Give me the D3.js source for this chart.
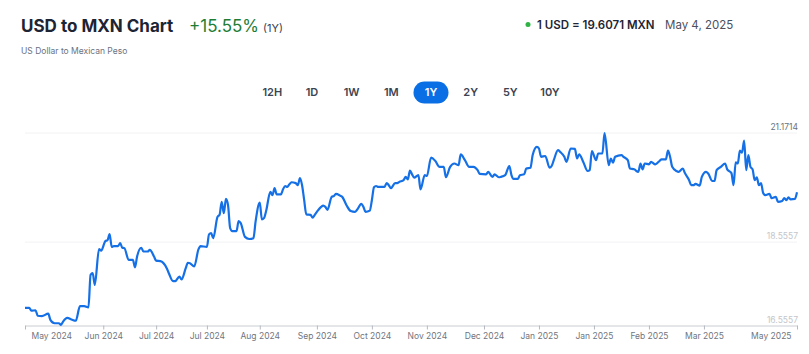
<!DOCTYPE html>
<html>
<head>
<meta charset="utf-8">
<script src="https://cdn.jsdelivr.net/npm/d3@7"></script>
<style>
  html, body { margin: 0; padding: 0; background: #fff; }
  .chart { width: 809px; height: 354px; }
  text { font-family: Inter, "Noto Sans", sans-serif; }
  .x-axis .domain { stroke: #c9ccd1; }
  .x-axis line { stroke: #b5b9c0; }
  .x-axis text { fill: #70757e; font-size: 8.5px; }
</style>
</head>
<body>
<div class="chart"></div>
<script>
// daily USD/MXN closes
var dates = [
  "2024-05-04","2024-05-06","2024-05-07","2024-05-09","2024-05-10","2024-05-12","2024-05-15","2024-05-16",
  "2024-05-18","2024-05-20","2024-05-21","2024-05-22","2024-05-24","2024-05-26","2024-05-28","2024-05-30",
  "2024-06-01","2024-06-03","2024-06-04","2024-06-05","2024-06-06","2024-06-08","2024-06-09","2024-06-11",
  "2024-06-12","2024-06-13","2024-06-14","2024-06-15","2024-06-17","2024-06-18","2024-06-19","2024-06-20",
  "2024-06-22","2024-06-24","2024-06-25","2024-06-26","2024-06-28","2024-06-29","2024-07-01","2024-07-02",
  "2024-07-04","2024-07-05","2024-07-07","2024-07-10","2024-07-11","2024-07-13","2024-07-14","2024-07-16",
  "2024-07-17","2024-07-19","2024-07-20","2024-07-21","2024-07-23","2024-07-25","2024-07-26","2024-07-29",
  "2024-07-30","2024-07-31","2024-08-01","2024-08-03","2024-08-04","2024-08-05","2024-08-06","2024-08-07",
  "2024-08-08","2024-08-09","2024-08-10","2024-08-12","2024-08-13","2024-08-14","2024-08-16","2024-08-18",
  "2024-08-20","2024-08-21","2024-08-23","2024-08-24","2024-08-25","2024-08-26","2024-08-28","2024-08-29",
  "2024-08-30","2024-08-31","2024-09-02","2024-09-03","2024-09-04","2024-09-05","2024-09-06","2024-09-07",
  "2024-09-09","2024-09-10","2024-09-11","2024-09-12","2024-09-13","2024-09-14","2024-09-16","2024-09-17",
  "2024-09-18","2024-09-19","2024-09-21","2024-09-22","2024-09-23","2024-09-24","2024-09-26","2024-09-27",
  "2024-09-28","2024-09-30","2024-10-01","2024-10-03","2024-10-05","2024-10-07","2024-10-08","2024-10-10",
  "2024-10-11","2024-10-12","2024-10-14","2024-10-15","2024-10-16","2024-10-17","2024-10-18","2024-10-20",
  "2024-10-21","2024-10-22","2024-10-23","2024-10-24","2024-10-26","2024-10-27","2024-10-28","2024-10-30",
  "2024-10-31","2024-11-01","2024-11-02","2024-11-03","2024-11-04","2024-11-06","2024-11-07","2024-11-09",
  "2024-11-10","2024-11-12","2024-11-14","2024-11-16","2024-11-18","2024-11-19","2024-11-21","2024-11-23",
  "2024-11-25","2024-11-26","2024-11-28","2024-11-30","2024-12-02","2024-12-04","2024-12-05","2024-12-08",
  "2024-12-09","2024-12-11","2024-12-12","2024-12-14","2024-12-15","2024-12-17","2024-12-19","2024-12-20",
  "2024-12-21","2024-12-23","2024-12-24","2024-12-26","2024-12-27","2024-12-29","2024-12-30","2025-01-01",
  "2025-01-02","2025-01-03","2025-01-05","2025-01-07","2025-01-08","2025-01-09","2025-01-11","2025-01-12",
  "2025-01-14","2025-01-15","2025-01-17","2025-01-19","2025-01-20","2025-01-21","2025-01-23","2025-01-25",
  "2025-01-26","2025-01-27","2025-01-29","2025-01-30","2025-02-01","2025-02-02","2025-02-04","2025-02-05",
  "2025-02-06","2025-02-07","2025-02-10","2025-02-11","2025-02-13","2025-02-14","2025-02-16","2025-02-18",
  "2025-02-19","2025-02-20","2025-02-21","2025-02-23","2025-02-24","2025-02-26","2025-02-28","2025-03-01",
  "2025-03-03","2025-03-04","2025-03-05","2025-03-06","2025-03-08","2025-03-09","2025-03-11","2025-03-12",
  "2025-03-14","2025-03-15","2025-03-16","2025-03-17","2025-03-19","2025-03-20","2025-03-22","2025-03-23",
  "2025-03-25","2025-03-26","2025-03-27","2025-03-29","2025-03-31","2025-04-01","2025-04-03","2025-04-04",
  "2025-04-05","2025-04-06","2025-04-07","2025-04-08","2025-04-09","2025-04-10","2025-04-11","2025-04-12",
  "2025-04-13","2025-04-14","2025-04-15","2025-04-16","2025-04-17","2025-04-18","2025-04-19","2025-04-21",
  "2025-04-22","2025-04-24","2025-04-25","2025-04-27","2025-04-28","2025-04-29","2025-04-30","2025-05-01",
  "2025-05-03","2025-05-04"
];
var rates = [
  16.98,16.98,16.91,16.92,16.79,16.78,16.84,16.69,
  16.61,16.61,16.57,16.65,16.74,16.70,16.67,17.02,
  17.02,16.99,17.77,17.81,17.53,18.39,18.35,18.58,
  18.60,18.75,18.44,18.46,18.46,18.53,18.42,18.41,
  18.13,18.13,17.95,18.21,18.42,18.33,18.33,18.37,
  18.21,18.11,18.10,17.93,17.81,17.62,17.62,17.73,
  17.66,17.93,18.06,18.05,17.97,18.38,18.46,18.44,
  18.74,18.77,18.65,19.16,19.21,19.52,19.25,19.59,
  19.44,18.89,18.82,18.82,19.06,19.01,18.68,18.63,
  18.65,19.04,19.50,19.10,19.13,19.30,19.76,19.68,
  19.85,19.70,19.70,19.82,19.90,19.88,19.94,19.99,
  19.97,19.92,20.09,19.92,19.56,19.22,19.21,19.14,
  19.21,19.28,19.40,19.43,19.40,19.33,19.64,19.66,
  19.71,19.67,19.64,19.44,19.30,19.28,19.33,19.47,
  19.40,19.28,19.31,19.56,19.87,19.90,19.88,19.88,
  19.88,19.97,19.92,19.85,19.97,19.97,20.00,20.04,
  20.12,20.06,20.27,20.18,20.10,20.16,19.82,20.16,
  20.14,20.58,20.50,20.36,20.36,20.11,20.36,20.44,
  20.40,20.66,20.52,20.36,20.36,20.28,20.19,20.18,
  20.24,20.12,20.18,20.11,20.12,20.16,20.38,20.16,
  20.07,20.07,20.16,20.18,20.32,20.34,20.64,20.84,
  20.80,20.60,20.62,20.34,20.38,20.52,20.76,20.72,
  20.60,20.48,20.80,20.79,20.56,20.66,20.47,20.26,
  20.28,20.74,20.52,20.68,20.68,21.17,20.40,20.56,
  20.46,20.60,20.64,20.60,20.52,20.32,20.30,20.24,
  20.44,20.30,20.44,20.42,20.48,20.42,20.50,20.54,
  20.54,20.75,20.60,20.36,20.26,20.24,20.32,20.21,
  20.04,19.92,19.92,19.95,19.91,20.12,20.24,20.20,
  20.02,20.02,20.28,20.36,20.44,20.30,20.21,19.92,
  20.47,20.44,20.75,20.70,20.99,20.28,20.64,20.36,
  20.30,20.04,20.11,19.92,19.97,19.73,19.68,19.71,
  19.61,19.64,19.52,19.54,19.61,19.56,19.63,19.58,
  19.59,19.75
];
var dateRange = ["2024-05-04", "2025-05-04"];
var xTickDates = ["2024-05-04","2024-06-10","2024-07-05","2024-07-29","2024-08-23","2024-09-19","2024-10-15",
                  "2024-11-10","2024-12-07","2025-01-02","2025-01-28","2025-02-23","2025-03-21","2025-05-04"];
var yTicks = [16.5557, 18.5557, 21.1714];
var rangeButtons = ["12H","1D","1W","1M","1Y","2Y","5Y","10Y"];
var activeRange = "1Y";

(function(){
    var parse = d3.timeParse("%Y-%m-%d");
    var data = dates.map(function(d, i){ return {date: parse(d), value: rates[i]}; });

    var W = 809, H = 354;
    var plot = {left: 25, right: 797, top: 133, bottom: 325.5};

    var svg = d3.select(".chart").append("svg")
        .attr("width", W)
        .attr("height", H);

    // ---- header ----
    var head = svg.append("g");
    head.append("text").attr("x", 21).attr("y", 31.5)
        .attr("font-size", 17).attr("font-weight", 700).attr("fill", "#1d2433")
        .text("USD to MXN Chart");
    head.append("text").attr("x", 189).attr("y", 31.5)
        .attr("font-size", 17).attr("fill", "#1e7d35")
        .text("+15.55%");
    head.append("text").attr("x", 263).attr("y", 31.5)
        .attr("font-size", 11).attr("fill", "#3b4252")
        .text("(1Y)");
    head.append("text").attr("x", 21).attr("y", 54)
        .attr("font-size", 8.5).attr("fill", "#6b7280")
        .text("US Dollar to Mexican Peso");

    head.append("circle").attr("cx", 528).attr("cy", 24.5).attr("r", 2.5).attr("fill", "#2fb344");
    head.append("text").attr("x", 537).attr("y", 28.5)
        .attr("font-size", 11.5).attr("font-weight", 600).attr("fill", "#1d2433")
        .text("1 USD = 19.6071 MXN");
    head.append("text").attr("x", 665).attr("y", 28.5)
        .attr("font-size", 11.5).attr("fill", "#4a5060")
        .text("May 4, 2025");

    // ---- range buttons ----
    var bx = d3.scalePoint().domain(rangeButtons).range([272.3, 550]);
    var btn = svg.append("g").selectAll("g").data(rangeButtons).enter()
        .append("g")
        .attr("transform", function(d){ return "translate(" + bx(d) + ",92.5)"; });
    btn.filter(function(d){ return d === activeRange; })
        .append("rect")
        .attr("x", -17.5).attr("y", -11).attr("width", 35).attr("height", 22).attr("rx", 11)
        .attr("fill", "#0a6ee4");
    btn.append("text")
        .attr("text-anchor", "middle").attr("dy", "0.36em")
        .attr("font-size", 11).attr("font-weight", 600)
        .attr("fill", function(d){ return d === activeRange ? "#fff" : "#3c4352"; })
        .text(function(d){ return d; });

    // ---- scales ----
    var x = d3.scaleTime().domain(dateRange.map(parse)).range([plot.left, plot.right]);
    var y = d3.scaleLinear().domain([yTicks[0], yTicks[yTicks.length - 1]]).range([plot.bottom, plot.top]);

    // gridlines (bottom one is the axis)
    svg.append("g").selectAll("line").data(yTicks.slice(1)).enter()
        .append("line")
        .attr("x1", plot.left).attr("x2", plot.right)
        .attr("y1", function(d){ return y(d); }).attr("y2", function(d){ return y(d); })
        .attr("stroke", "#f1f2f4");

    // y labels sit above their line, right side
    svg.append("g").selectAll("text").data(yTicks).enter()
        .append("text")
        .attr("x", plot.right + 1)
        .attr("y", function(d){ return y(d) - 3; })
        .attr("text-anchor", "end")
        .attr("font-size", 8.5)
        .attr("fill", function(d, i){ return i === yTicks.length - 1 ? "#6d7179" : "#c3c6cb"; })
        .text(d3.format(".4f"));

    // x axis
    var xAxis = svg.append("g")
        .attr("class", "x-axis")
        .attr("transform", "translate(0," + plot.bottom + ")")
        .call(d3.axisBottom(x)
            .tickValues(xTickDates.map(parse))
            .tickSize(4)
            .tickSizeOuter(0)
            .tickPadding(3)
            .tickFormat(d3.timeFormat("%b %Y")));
    xAxis.selectAll(".tick text").attr("font-family", null).attr("font-size", null);
    xAxis.select(".tick:first-of-type text").attr("text-anchor", "start").attr("dx", 6);
    xAxis.select(".tick:last-of-type text").attr("text-anchor", "end").attr("dx", -6);

    // rate line
    var line = d3.line()
        .x(function(d){ return x(d.date); })
        .y(function(d){ return y(d.value); })
        .curve(d3.curveMonotoneX);

    svg.append("path")
        .datum(data)
        .attr("fill", "none")
        .attr("stroke", "#1570e6")
        .attr("stroke-width", 2.2)
        .attr("stroke-linejoin", "round")
        .attr("d", line);
}())
</script>
</body>
</html>
